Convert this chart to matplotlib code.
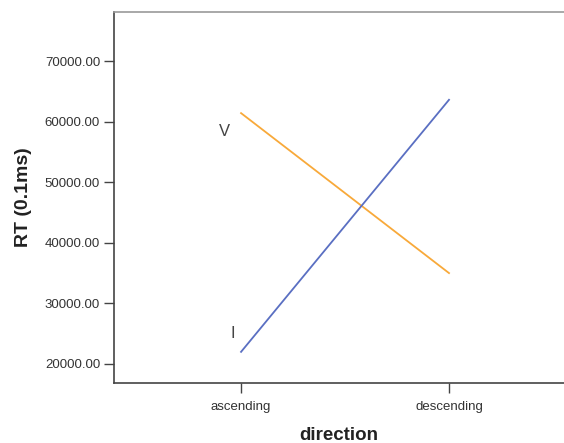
import matplotlib
matplotlib.use('Agg')
import matplotlib.pyplot as plt

# data
directions = ['ascending', 'descending']
rt_v = [61400, 35000]
rt_i = [22000, 63600]
y_ticks = [20000, 30000, 40000, 50000, 60000, 70000]

plt.rcParams['font.family'] = ['Liberation Sans', 'DejaVu Sans']

fig = plt.figure(figsize=(5.64, 4.43), dpi=100)
ax = fig.add_axes([114 / 564, 60 / 443, 450 / 564, 371 / 443])

x = list(range(len(directions)))
ax.plot(x, rt_v, color='#F8A93A', linewidth=1.3)
ax.plot(x, rt_i, color='#5A6FC2', linewidth=1.3)

ax.text(-0.08, rt_v[0] - 3100, 'V', fontsize=12, color='#444444', ha='center', va='center')
ax.text(-0.04, rt_i[0] + 3100, 'I', fontsize=12, color='#444444', ha='center', va='center')

ax.set_xlim(-0.611, 1.553)
ax.set_ylim(16860, 78090)
ax.set_xticks(x)
ax.set_xticklabels(directions)
ax.set_yticks(y_ticks)
ax.set_yticklabels([f'{v:.2f}' for v in y_ticks])
ax.tick_params(axis='both', direction='out', length=7, width=1, color='#444444',
               labelsize=9.5, labelcolor='#333333', pad=3)
ax.tick_params(axis='x', pad=6)

ax.spines['right'].set_visible(False)
ax.spines['top'].set_color('#999999')
ax.spines['left'].set_color('#444444')
ax.spines['bottom'].set_color('#444444')
for s in ['top', 'left', 'bottom']:
    ax.spines[s].set_linewidth(1.2)

ax.set_xlabel('direction', fontsize=13.5, fontweight='bold', color='#222222', labelpad=10)
ax.set_ylabel('RT (0.1ms)', fontsize=14, fontweight='bold', color='#222222', labelpad=9)

fig.savefig('out.png', dpi=100)
